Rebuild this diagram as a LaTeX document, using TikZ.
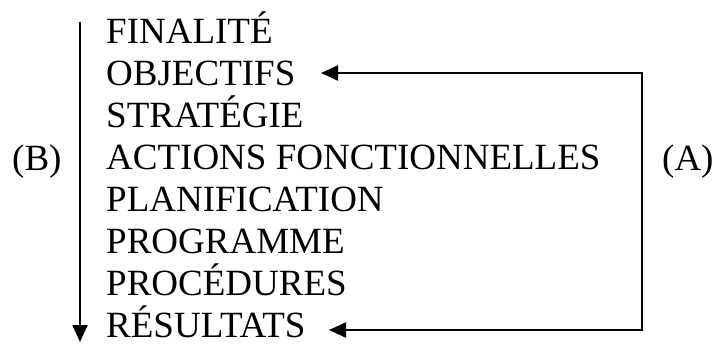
\documentclass[tikz,border=0pt]{standalone}
\usepackage{fontspec}
\setmainfont{Liberation Serif}
\usetikzlibrary{arrows.meta}
\begin{document}
\begin{tikzpicture}[x=1pt,y=1pt,
  lbl/.style={anchor=base west,inner sep=0pt,font=\fontsize{37}{42}\selectfont},
  tip/.tip={Triangle[length=17pt,width=15pt]},
  conn/.style={line width=2.2pt,arrows={-tip}},
  conn2/.style={line width=2.2pt,arrows={tip-tip}}]
\useasboundingbox (0,0) rectangle (714,-345);
\node[lbl] (t1) at (106,-44) {FINALITÉ};
\node[lbl] (t2) at (106,-85.9) {OBJECTIFS};
\node[lbl] (t3) at (106,-127.8) {STRATÉGIE};
\node[lbl] (t4) at (106,-169.7) {ACTIONS FONCTIONNELLES};
\node[lbl] (t5) at (106,-211.6) {PLANIFICATION};
\node[lbl] (t6) at (106,-253.5) {PROGRAMME};
\node[lbl] (t7) at (106,-295.4) {PROCÉDURES};
\node[lbl] (t8) at (106,-337.3) {RÉSULTATS};
\node[lbl] (lb) at (12,-170) {(B)};
\node[lbl] (la) at (662,-170) {(A)};
\coordinate (btop) at (80,-22);
\coordinate (bbot) at (80,-342);
\coordinate (tip1) at (321,-73);
\coordinate (tr) at (642,-73);
\coordinate (br) at (642,-330);
\coordinate (tip2) at (329,-330);
\draw[conn] (btop) -- (bbot);
\draw[conn2] (tip1) -- (tr) -- (br) -- (tip2);
\end{tikzpicture}
\end{document}
